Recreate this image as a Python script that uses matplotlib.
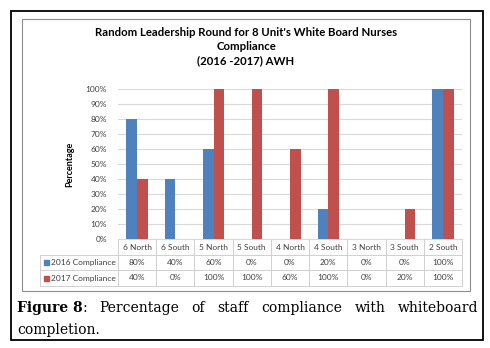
import matplotlib.pyplot as plt
from matplotlib.patches import Rectangle
from matplotlib.lines import Line2D

units = ["6 North", "6 South", "5 North", "5 South", "4 North",
         "4 South", "3 North", "3 South", "2 South"]
c2016 = [80, 40, 60, 0, 0, 20, 0, 0, 100]
c2017 = [40, 0, 100, 100, 60, 100, 0, 20, 100]
series_names = ["2016 Compliance", "2017 Compliance"]
yticks = [0, 10, 20, 30, 40, 50, 60, 70, 80, 90, 100]

BLUE = "#4f81bd"
RED = "#c0504d"
GRID = "#d9d9d9"
FONT = "Lato"

W, H = 490, 348
fig = plt.figure(figsize=(W / 100, H / 100), dpi=100)


def fx(px):
    return px / W


def fy(py):
    return 1 - py / H


# frames
fig.add_artist(Rectangle((fx(11), fy(340)), fx(472), 329 / H, fill=False,
                         ec="black", lw=1.3, transform=fig.transFigure))
fig.add_artist(Rectangle((fx(22), fy(291)), fx(448), 272 / H, fill=False,
                         ec="#8c8c8c", lw=0.8, transform=fig.transFigure))

ax_l, ax_r, ax_t, ax_b = 118, 462, 89, 239
ax = fig.add_axes([fx(ax_l), fy(ax_b), fx(ax_r - ax_l), (ax_b - ax_t) / H])

x = list(range(len(units)))
bw = 0.28
ax.bar([i - bw / 2 for i in x], c2016, bw, color=BLUE, zorder=3)
ax.bar([i + bw / 2 for i in x], c2017, bw, color=RED, zorder=3)

ax.set_xlim(-0.5, len(units) - 0.5)
ax.set_ylim(0, 100)
ax.set_yticks(yticks)
ax.set_yticklabels([f"{t}%" for t in yticks], fontsize=6, family=FONT,
                   color="#404040")
ax.set_xticks([])
ax.tick_params(axis="y", length=0, pad=8)
ax.grid(axis="y", color=GRID, lw=0.8, zorder=0)
for s in ["top", "right", "left"]:
    ax.spines[s].set_visible(False)
ax.spines["bottom"].set_color(GRID)

fig.text(fx(70), fy(164), "Percentage", rotation=90, ha="center",
         va="center", fontsize=6.5, fontweight="bold", family=FONT)

# title
for txt, py in [("Random Leadership Round for 8 Unit's White Board Nurses", 32),
                ("Compliance", 46), ("(2016 -2017) AWH", 61)]:
    fig.text(fx(246), fy(py), txt, ha="center", va="center", fontsize=8.2,
             fontweight="bold", family=FONT)

# data table under the axis
col_w = (ax_r - ax_l) / len(units)
row_y = [239, 255, 270, 286]
leg_l = 40
tcol = "#d0d0d0"


def hline(x0, x1, y):
    fig.add_artist(Line2D([fx(x0), fx(x1)], [fy(y), fy(y)], color=tcol,
                          lw=0.7, transform=fig.transFigure))


def vline(xp, y0, y1):
    fig.add_artist(Line2D([fx(xp), fx(xp)], [fy(y0), fy(y1)], color=tcol,
                          lw=0.7, transform=fig.transFigure))


for y in row_y[1:]:
    hline(leg_l, ax_r, y)
for i in range(len(units) + 1):
    vline(ax_l + i * col_w, row_y[0], row_y[3])
vline(leg_l, row_y[1], row_y[3])

for i, u in enumerate(units):
    cx = ax_l + (i + 0.5) * col_w
    fig.text(fx(cx), fy((row_y[0] + row_y[1]) / 2), u, ha="center",
             va="center", fontsize=6, family=FONT, color="#404040")
    for r, vals in enumerate([c2016, c2017]):
        fig.text(fx(cx), fy((row_y[r + 1] + row_y[r + 2]) / 2),
                 f"{vals[i]}%", ha="center", va="center", fontsize=6,
                 family=FONT, color="#404040")

for r, (name, col) in enumerate(zip(series_names, [BLUE, RED])):
    cy = (row_y[r + 1] + row_y[r + 2]) / 2
    fig.add_artist(Rectangle((fx(44), fy(cy + 2.5)), fx(5), 5 / H, color=col,
                             transform=fig.transFigure))
    fig.text(fx(51), fy(cy), name, ha="left", va="center", fontsize=6,
             family=FONT, color="#404040")

# caption, justified first line
cap_words = ["Figure 8:", "Percentage", "of", "staff", "compliance", "with",
             "whiteboard"]
serif = "DejaVu Serif"
csize = 10
fig.canvas.draw()
rend = fig.canvas.get_renderer()
arts = []
for i, w in enumerate(cap_words):
    if i == 0:
        t1 = fig.text(0, fy(308), "Figure 8", fontsize=csize, family=serif,
                      fontweight="bold", va="center")
        t2 = fig.text(0, fy(308), ":", fontsize=csize, family=serif,
                      va="center")
        arts.append([t1, t2])
    else:
        arts.append([fig.text(0, fy(308), w, fontsize=csize, family=serif,
                              va="center")])
widths = []
for group in arts:
    widths.append([t.get_window_extent(rend).width for t in group])
left, right = 17, 478
total = sum(sum(w) for w in widths)
gap = (right - left - total) / (len(arts) - 1)
pos = left
for group, ws in zip(arts, widths):
    p = pos
    for t, w in zip(group, ws):
        t.set_x(fx(p))
        p += w
    pos = p + gap
fig.text(fx(17), fy(330), "completion.", fontsize=csize, family=serif,
         va="center")

fig.savefig("out.png", dpi=100)
